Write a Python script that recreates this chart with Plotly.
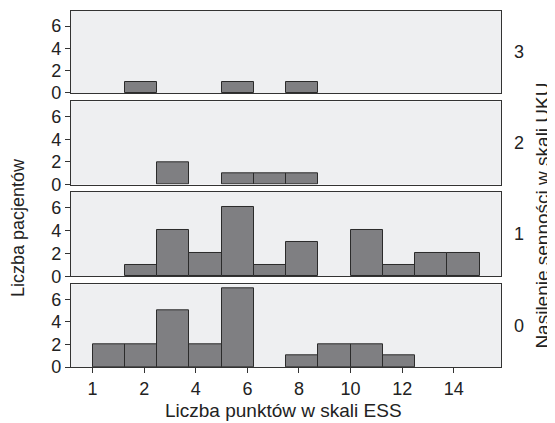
import plotly.graph_objects as go

# ---- data ----
bin_edges = [0, 1.25, 2.5, 3.75, 5, 6.25, 7.5, 8.75, 10, 11.25, 12.5, 13.75, 15]
uku_levels = ["3", "2", "1", "0"]
counts_uku3 = [0, 1, 0, 0, 1, 0, 1, 0, 0, 0, 0, 0]
counts_uku2 = [0, 0, 2, 0, 1, 1, 1, 0, 0, 0, 0, 0]
counts_uku1 = [0, 1, 4, 2, 6, 1, 3, 0, 4, 1, 2, 2]
counts_uku0 = [2, 2, 5, 2, 7, 0, 1, 2, 2, 1, 0, 0]
x_tick_vals = [0, 2, 4, 6, 8, 10, 12, 14]
x_tick_text = ["1", "2", "4", "6", "8", "10", "12", "14"]
y_tick_vals = [0, 2, 4, 6]

centers = [(a + b) / 2 for a, b in zip(bin_edges[:-1], bin_edges[1:])]
widths = [b - a for a, b in zip(bin_edges[:-1], bin_edges[1:])]

panels = [counts_uku3, counts_uku2, counts_uku1, counts_uku0]
# domains (paper fraction from bottom), top panel first
domains = [[0.7697, 1.0], [0.5124, 0.7463], [0.2548, 0.4916], [0.0, 0.2323]]

FONT = "Liberation Sans, Arial, sans-serif"
LINE = "#333333"
TXT = "#222222"

fig = go.Figure()
# the page body adds an 8px offset, so the figure is 8px smaller on each axis
layout = dict(
    width=547, height=415,
    margin=dict(l=62.7, r=54.3, t=2.7, b=56.3, autoexpand=False),
    paper_bgcolor="white", plot_bgcolor="#EEEFF1",
    showlegend=False, bargap=0,
    font=dict(family=FONT, size=18, color=TXT),
)
for i, counts in enumerate(panels):
    n = i + 1
    xa = "x" if n == 1 else f"x{n}"
    ya = "y" if n == 1 else f"y{n}"
    xs = [c for c, v in zip(centers, counts) if v > 0]
    ys = [v for v in counts if v > 0]
    ws = [w for w, v in zip(widths, counts) if v > 0]
    fig.add_trace(go.Bar(
        x=xs, y=ys, width=ws, xaxis=xa, yaxis=ya,
        marker=dict(color="#7F7F82", line=dict(color="#2B2B2B", width=1)),
        hoverinfo="skip",
    ))
    bottom = (i == len(panels) - 1)
    xkey = "xaxis" if n == 1 else f"xaxis{n}"
    ykey = "yaxis" if n == 1 else f"yaxis{n}"
    layout[xkey] = dict(
        anchor=ya, domain=[0, 1], range=[-0.837, 15.83], automargin=False,
        showgrid=False, zeroline=False, showline=True, mirror=True,
        linecolor=LINE, linewidth=1.3,
        tickvals=x_tick_vals, ticktext=x_tick_text,
        ticks="outside" if bottom else "", ticklen=5, tickcolor=LINE, tickwidth=1.3,
        showticklabels=bottom,
        tickfont=dict(family=FONT, size=18, color=TXT),
    )
    layout[ykey] = dict(
        anchor=xa, domain=domains[i], range=[0, 7.35], automargin=False,
        showgrid=False, zeroline=False, showline=True, mirror=True,
        linecolor=LINE, linewidth=1.3,
        tickvals=y_tick_vals, ticks="outside", ticklen=5, tickcolor=LINE, tickwidth=1.3,
        tickfont=dict(family=FONT, size=18, color=TXT),
    )

fig.update_layout(**layout)

annotations = []
for i, lab in enumerate(uku_levels):
    d = domains[i]
    annotations.append(dict(
        text=lab, xref="paper", yref="paper", x=1.0426, y=(d[0] + d[1]) / 2,
        showarrow=False, xanchor="center", yanchor="middle",
        font=dict(family=FONT, size=18, color=TXT),
    ))
annotations.append(dict(
    text="Nasilenie senności w skali UKU", xref="paper", yref="paper",
    x=1.096, y=0.426, textangle=-90, showarrow=False,
    xanchor="center", yanchor="middle",
    font=dict(family=FONT, size=19, color=TXT),
))
annotations.append(dict(
    text="Liczba pacjentów", xref="paper", yref="paper",
    x=-0.122, y=0.392, textangle=-90, showarrow=False,
    xanchor="center", yanchor="middle",
    font=dict(family=FONT, size=18, color=TXT),
))
annotations.append(dict(
    text="Liczba punktów w skali ESS", xref="paper", yref="paper",
    x=0.495, y=-0.1216, showarrow=False,
    xanchor="center", yanchor="middle",
    font=dict(family=FONT, size=19, color=TXT),
))
fig.update_layout(annotations=annotations)

fig.write_html("out.html")
